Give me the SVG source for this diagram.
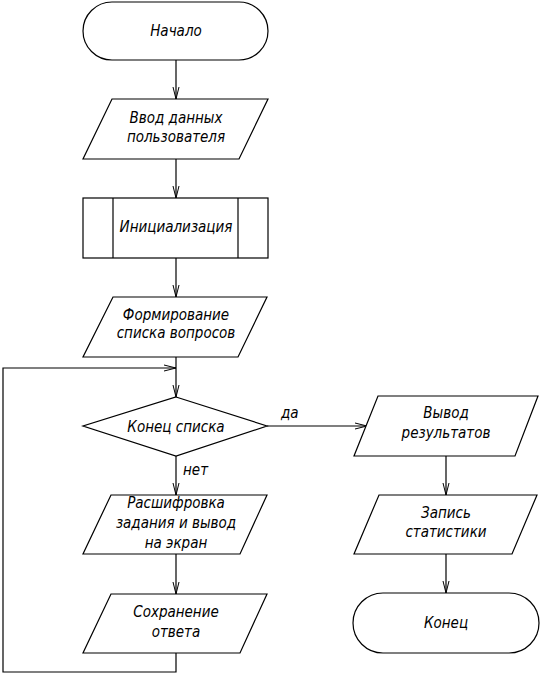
<svg xmlns="http://www.w3.org/2000/svg" width="540" height="674" viewBox="0 0 540 674">
<style>
.s{fill:#fff;stroke:#000;stroke-width:1.2}
.c{fill:none;stroke:#000;stroke-width:1.2}
text{font-family:"Liberation Sans Narrow","DejaVu Sans Condensed","Liberation Sans",sans-serif;font-style:italic;font-size:15px;fill:#000;text-anchor:middle}
.l{text-anchor:start}
</style>
<defs>
<marker id="a" markerUnits="userSpaceOnUse" markerWidth="14" markerHeight="8" refX="13" refY="4" orient="auto">
<path d="M1,1 L13,4 L1,7" fill="none" stroke="#000" stroke-width="1"/>
</marker>
</defs>
<rect width="540" height="674" fill="#fff"/>
<g id="connectors">
<line class="c" x1="176" y1="60" x2="176" y2="99" marker-end="url(#a)"/>
<line class="c" x1="176" y1="159" x2="176" y2="198" marker-end="url(#a)"/>
<line class="c" x1="176" y1="258" x2="176" y2="297" marker-end="url(#a)"/>
<line class="c" x1="176" y1="357" x2="176" y2="397" marker-end="url(#a)"/>
<line class="c" x1="176" y1="456" x2="176" y2="495" marker-end="url(#a)"/>
<line class="c" x1="176" y1="554" x2="176" y2="594" marker-end="url(#a)"/>
<polyline class="c" points="176,653 176,672 3,672 3,368 176,368" marker-end="url(#a)"/>
<line class="c" x1="267" y1="426" x2="367" y2="426" marker-end="url(#a)"/>
<line class="c" x1="446" y1="456" x2="446" y2="495" marker-end="url(#a)"/>
<line class="c" x1="446" y1="554" x2="446" y2="593" marker-end="url(#a)"/>
<text class="l" x="281" y="418">да</text>
<text class="l" x="183" y="475">нет</text>
</g>
<g id="start">
<rect class="s" x="83" y="2" width="185" height="58" rx="29" ry="29"/>
<text x="176" y="36">Начало</text>
</g>
<g id="input">
<polygon class="s" points="112,99 268,99 239,159 83,159"/>
<text x="176" y="123">Ввод данных</text>
<text x="176" y="142">пользователя</text>
</g>
<g id="init">
<rect class="s" x="83" y="198" width="185" height="60"/>
<line class="c" x1="113" y1="198" x2="113" y2="258"/>
<line class="c" x1="238" y1="198" x2="238" y2="258"/>
<text x="176" y="232">Инициализация</text>
</g>
<g id="form">
<polygon class="s" points="113,297 267,297 238,357 83,357"/>
<text x="176" y="320">Формирование</text>
<text x="176" y="338">списка вопросов</text>
</g>
<g id="decision">
<polygon class="s" points="176,397 267,426 176,456 83,426"/>
<text x="176" y="432">Конец списка</text>
</g>
<g id="decode">
<polygon class="s" points="111,495 267,495 240,554 83,554"/>
<text x="176" y="508">Расшифровка</text>
<text x="176" y="528">задания и вывод</text>
<text x="176" y="548">на экран</text>
</g>
<g id="save">
<polygon class="s" points="111,594 267,594 240,653 83,653"/>
<text x="176" y="617">Сохранение</text>
<text x="176" y="637">ответа</text>
</g>
<g id="results">
<polygon class="s" points="378,396 538,396 515,456 354,456"/>
<text x="446" y="418">Вывод</text>
<text x="446" y="438">результатов</text>
</g>
<g id="stats">
<polygon class="s" points="379,495 537,495 512,554 354,554"/>
<text x="446" y="518">Запись</text>
<text x="446" y="537">статистики</text>
</g>
<g id="end">
<rect class="s" x="353" y="593" width="186" height="60" rx="30" ry="30"/>
<text x="446" y="628">Конец</text>
</g>
</svg>
